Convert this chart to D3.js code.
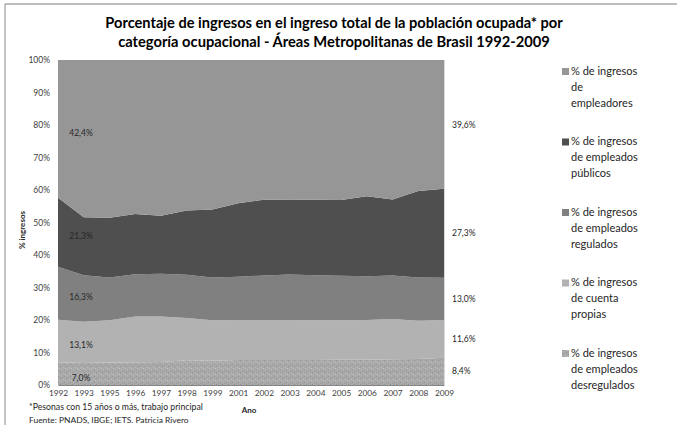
<!DOCTYPE html>
<html>
<head>
<meta charset="utf-8">
<script src="https://cdn.jsdelivr.net/npm/d3@7"></script>
<style>
  body { margin: 0; background: #fff; }
  svg { display: block; font-family: Lato, "Open Sans", sans-serif; }
</style>
</head>
<body>
<svg id="chart" width="677" height="425"></svg>
<script>
// Datos (% del ingreso total)
const years = ["1992", "1993", "1995", "1996", "1997", "1998", "1999", "2001",
               "2002", "2003", "2004", "2005", "2006", "2007", "2008", "2009"];
const desregulados = [7.0, 6.8, 6.9, 7.0, 7.1, 7.6, 7.5, 7.7, 7.7, 7.7, 7.7, 7.8, 7.8, 7.9, 8.0, 8.4];
const cuentaPropia = [13.1, 12.7, 13.0, 14.1, 14.0, 13.0, 12.4, 12.3, 12.3, 12.3, 12.2, 12.1, 12.2, 12.4, 11.8, 11.6];
const regulados    = [16.3, 14.3, 13.2, 13.0, 13.1, 13.3, 13.2, 13.3, 13.7, 14.0, 13.9, 13.7, 13.5, 13.4, 13.3, 13.0];
const publicos     = [21.3, 17.8, 18.4, 18.5, 17.9, 19.8, 20.9, 22.6, 23.3, 23.1, 23.2, 23.3, 24.6, 23.4, 26.6, 27.3];
const empleadores  = [42.4, 48.4, 48.5, 47.4, 47.9, 46.3, 46.0, 44.1, 43.0, 42.9, 43.0, 43.1, 41.9, 42.9, 40.3, 39.6];
const yTicks = [0, 0.1, 0.2, 0.3, 0.4, 0.5, 0.6, 0.7, 0.8, 0.9, 1];

const titleLines = ["Porcentaje de ingresos en el  ingreso total de la población ocupada* por",
                    "categoría ocupacional - Áreas Metropolitanas de Brasil 1992-2009"];

// series de abajo hacia arriba
const series = [
  { key: "desreg",  values: desregulados, color: "url(#textura)", legend: ["% de ingresos", "de empleados", "desregulados"] },
  { key: "cuenta",  values: cuentaPropia, color: "#b2b2b2", legend: ["% de ingresos", "de cuenta", "propias"] },
  { key: "regul",   values: regulados,    color: "#808080", legend: ["% de ingresos", "de empleados", "regulados"] },
  { key: "publ",    values: publicos,     color: "#4f4f4f", legend: ["% de ingresos", "de empleados", "públicos"] },
  { key: "empl",    values: empleadores,  color: "#969696", legend: ["% de ingresos", "de", "empleadores"] }
];

const svg = d3.select("#chart");
const plot = { left: 58, right: 444, top: 60, bottom: 385 };

// textura del área inferior
const defs = svg.append("defs");
const pat = defs.append("pattern").attr("id", "textura")
  .attr("patternUnits", "userSpaceOnUse").attr("width", 6).attr("height", 6);
pat.append("rect").attr("width", 6).attr("height", 6).attr("fill", "#a9a9a9");
[[0, 0, "#959595"], [3, 1, "#bdbdbd"], [1, 3, "#bababa"], [4, 4, "#999"], [5, 2, "#c4c4c4"], [2, 5, "#9c9c9c"]]
  .forEach(p => pat.append("rect").attr("x", p[0]).attr("y", p[1]).attr("width", 1).attr("height", 1).attr("fill", p[2]));

// marco del gráfico
svg.append("line").attr("x1", 5).attr("x2", 677).attr("y1", 4).attr("y2", 4)
  .attr("stroke", "#bdbdbd").attr("stroke-width", 2);
svg.append("line").attr("x1", 5).attr("x2", 5).attr("y1", 4).attr("y2", 425)
  .attr("stroke", "#8c8c8c").attr("stroke-width", 1);

// escalas
const x = d3.scalePoint().domain(years).range([plot.left, plot.right]);
const y = d3.scaleLinear().domain([0, 1]).range([plot.bottom, plot.top]);

const table = years.map((yr, i) => {
  const row = { year: yr };
  series.forEach(s => row[s.key] = s.values[i]);
  return row;
});

const stack = d3.stack().keys(series.map(s => s.key)).offset(d3.stackOffsetExpand);
const layers = stack(table);

const area = d3.area()
  .x(d => x(d.data.year))
  .y0(d => y(d[0]))
  .y1(d => y(d[1]));

svg.append("g").selectAll("path")
  .data(layers)
  .enter().append("path")
  .attr("d", area)
  .attr("fill", (d, i) => series[i].color);

// borde derecho
svg.append("line").attr("x1", plot.right + 0.5).attr("x2", plot.right + 0.5)
  .attr("y1", plot.top).attr("y2", plot.bottom).attr("stroke", "#d9d9d9");

// ejes
const yAxis = svg.append("g").attr("transform", `translate(${plot.left},0)`)
  .call(d3.axisLeft(y).tickValues(yTicks).tickFormat(d3.format(".0%")).tickSize(0).tickPadding(8));
yAxis.select(".domain").remove();
yAxis.selectAll("text").attr("font-size", 8.5).attr("fill", "#404040").attr("font-family", "Lato");

const xAxis = svg.append("g").attr("transform", `translate(0,${plot.bottom})`)
  .call(d3.axisBottom(x).tickSize(0).tickPadding(5));
xAxis.select(".domain").attr("stroke", "#868686");
xAxis.selectAll("text").attr("font-size", 8.3).attr("fill", "#404040").attr("font-family", "Lato");

// etiquetas de valores (primer y último año)
const fmt = v => d3.format(".1f")(v).replace(".", ",") + "%";
const last = years.length - 1;
layers.forEach((layer, i) => {
  const a = layer[0], b = layer[last];
  svg.append("text")
    .attr("x", 81).attr("y", y((a[0] + a[1]) / 2) + 5)
    .attr("text-anchor", "middle").attr("dominant-baseline", "middle")
    .attr("font-size", 8.5).attr("fill", "#262626")
    .text(fmt(series[i].values[0]));
  svg.append("text")
    .attr("x", 452).attr("y", y((b[0] + b[1]) / 2) + 1)
    .attr("dominant-baseline", "middle")
    .attr("font-size", 8.5).attr("fill", "#262626")
    .text(fmt(series[i].values[last]));
});

// títulos
function fit(sel, width) {
  const w = sel.node().getComputedTextLength();
  sel.attr("font-size", parseFloat(sel.attr("font-size")) * width / w);
}
fit(svg.append("text").attr("x", 334).attr("y", 28).attr("text-anchor", "middle")
  .attr("font-size", 15).attr("font-weight", "bold").attr("fill", "#000").text(titleLines[0]), 458);
fit(svg.append("text").attr("x", 334).attr("y", 47).attr("text-anchor", "middle")
  .attr("font-size", 15).attr("font-weight", "bold").attr("fill", "#000").text(titleLines[1]), 432);

svg.append("text").attr("transform", "translate(25,230) rotate(-90)")
  .attr("text-anchor", "middle").attr("font-size", 8).attr("font-weight", "bold")
  .attr("fill", "#262626").text("% ingresos");

svg.append("text").attr("x", 249).attr("y", 413).attr("text-anchor", "middle")
  .attr("font-size", 8).attr("font-weight", "bold").attr("fill", "#262626").text("Ano");

fit(svg.append("text").attr("x", 29).attr("y", 410).attr("font-size", 9).attr("fill", "#262626")
  .text("*Pesonas con 15 años o más,  trabajo principal"), 174);
fit(svg.append("text").attr("x", 29).attr("y", 423).attr("font-size", 9).attr("fill", "#262626")
  .text("Fuente: PNADS, IBGE; IETS. Patricia Rivero"), 160);

// leyenda (orden de arriba hacia abajo)
const legend = svg.append("g").attr("transform", "translate(562,72)");
series.slice().reverse().forEach((s, i) => {
  const g = legend.append("g").attr("transform", `translate(0,${i * 70.5})`);
  g.append("rect").attr("x", 0).attr("y", -4).attr("width", 7).attr("height", 7).attr("fill", s.color);
  s.legend.forEach((line, j) => {
    g.append("text").attr("x", 9).attr("y", j * 16).attr("dominant-baseline", "middle")
      .attr("font-size", 11).attr("fill", "#262626").text(line);
  });
});
</script>
</body>
</html>
